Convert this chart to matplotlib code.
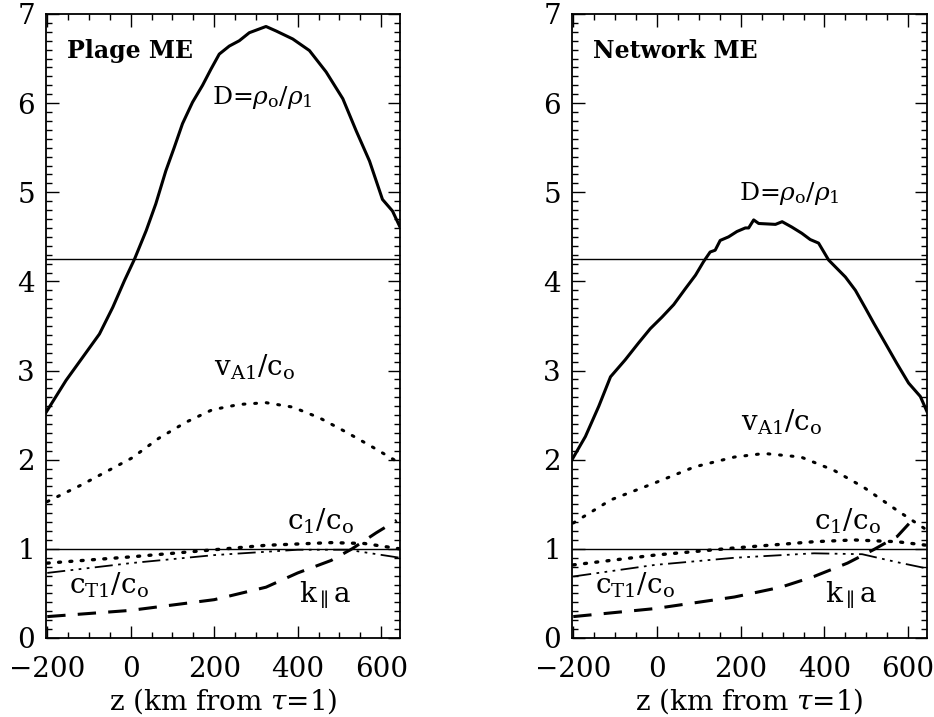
import numpy as np
import matplotlib
matplotlib.use("Agg")
import matplotlib.pyplot as plt
from matplotlib.ticker import MultipleLocator

plt.rcParams['font.family'] = ['DejaVu Serif']
plt.rcParams['mathtext.fontset'] = 'dejavuserif'

# ---- Plage ME ----
plage_d_z = [-203, -155, -115, -75, -43, -15, 9, 37, 60, 84, 104, 124, 148, 172, 192, 212, 236,
             260, 284, 324, 348, 388, 428, 468, 508, 540, 572, 603, 627, 645]
plage_d = [2.53, 2.89, 3.15, 3.41, 3.71, 4.01, 4.25, 4.57, 4.87, 5.24, 5.50, 5.77, 6.01, 6.20, 6.38,
           6.55, 6.64, 6.70, 6.79, 6.86, 6.81, 6.72, 6.59, 6.35, 6.05, 5.69, 5.35, 4.92, 4.79, 4.61]

plage_va_z = [-200, -117, -53, 3, 67, 132, 195, 260, 324, 388, 452, 516, 580, 645]
plage_va = [1.53, 1.72, 1.88, 2.02, 2.24, 2.42, 2.56, 2.62, 2.64, 2.59, 2.47, 2.31, 2.14, 1.96]

plage_c1_z = [-200, 0, 200, 324, 480, 560, 645]
plage_c1 = [0.84, 0.91, 0.99, 1.04, 1.07, 1.06, 1.0]

plage_ct_z = [-200, 0, 200, 400, 520, 645]
plage_ct = [0.73, 0.84, 0.93, 0.99, 0.99, 0.90]

plage_k_z = [-200, 0, 200, 324, 400, 480, 530, 588, 637]
plage_k = [0.24, 0.31, 0.43, 0.57, 0.73, 0.87, 1.0, 1.18, 1.32]

# ---- Network ME ----
net_d_z = [-203, -171, -139, -111, -76, -44, -16, 12, 40, 68, 92, 111, 127, 139, 151, 171, 191, 211,
           219, 231, 243, 283, 299, 322, 346, 366, 386, 410, 450, 474, 498, 518, 545, 573, 601, 629, 645]
net_d = [2.00, 2.26, 2.60, 2.93, 3.12, 3.31, 3.47, 3.60, 3.74, 3.92, 4.07, 4.22, 4.33, 4.35, 4.46,
         4.50, 4.56, 4.60, 4.60, 4.69, 4.65, 4.64, 4.67, 4.61, 4.54, 4.47, 4.43, 4.24, 4.05, 3.90,
         3.70, 3.53, 3.31, 3.08, 2.86, 2.71, 2.54]

net_va_z = [-200, -110, -5, 90, 185, 256, 344, 423, 494, 574, 645]
net_va = [1.29, 1.55, 1.74, 1.92, 2.03, 2.07, 2.03, 1.88, 1.69, 1.43, 1.21]

net_c1_z = [-200, -5, 185, 375, 470, 574, 645]
net_c1 = [0.82, 0.93, 1.01, 1.08, 1.10, 1.08, 1.04]

net_ct_z = [-200, -5, 185, 375, 490, 574, 645]
net_ct = [0.69, 0.82, 0.90, 0.95, 0.94, 0.85, 0.78]

net_k_z = [-200, -5, 185, 296, 375, 455, 517, 574, 621]
net_k = [0.24, 0.33, 0.46, 0.57, 0.69, 0.84, 0.99, 1.14, 1.38]

panels = [
    dict(title='Plage ME', d=(plage_d_z, plage_d), va=(plage_va_z, plage_va),
         c1=(plage_c1_z, plage_c1), ct=(plage_ct_z, plage_ct), k=(plage_k_z, plage_k),
         dpos=(194, 5.99), vapos=(200, 2.95)),
    dict(title='Network ME', d=(net_d_z, net_d), va=(net_va_z, net_va),
         c1=(net_c1_z, net_c1), ct=(net_ct_z, net_ct), k=(net_k_z, net_k),
         dpos=(196, 4.91), vapos=(200, 2.33)),
]

W, H = 934, 717
fig = plt.figure(figsize=(W / 100, H / 100), dpi=100)
rects = [[46 / W, 79 / H, 354 / W, 624 / H], [572 / W, 79 / H, 355 / W, 624 / H]]

for rect, p in zip(rects, panels):
    ax = fig.add_axes(rect)
    ax.plot(*p['d'], color='black', lw=2.2)
    ax.plot(*p['va'], color='black', lw=2.2, linestyle=(0, (0.6, 3.2)), dash_capstyle='round')
    ax.plot(*p['c1'], color='black', lw=2.4, linestyle=(0, (0.6, 2.8)), dash_capstyle='round')
    ax.plot(*p['ct'], color='black', lw=1.3, linestyle=(0, (10, 3, 1.5, 3, 1.5, 3, 1.5, 3)))
    ax.plot(*p['k'], color='black', lw=2.2, linestyle=(0, (6, 4)))
    ax.axhline(1.0, color='black', lw=1.0)
    ax.axhline(4.25, color='black', lw=1.0)

    ax.set_xlim(-203, 645)
    ax.set_ylim(0, 7)
    ax.xaxis.set_major_locator(MultipleLocator(200))
    ax.xaxis.set_minor_locator(MultipleLocator(50))
    ax.yaxis.set_major_locator(MultipleLocator(1))
    ax.yaxis.set_minor_locator(MultipleLocator(0.1))
    ax.tick_params(which='both', direction='in', top=True, right=True, width=1.0)
    ax.tick_params(which='major', length=9, labelsize=20)
    ax.tick_params(axis='x', which='major', pad=13)
    ax.tick_params(axis='y', which='major', pad=8)
    ax.tick_params(which='minor', length=4)
    for s in ax.spines.values():
        s.set_linewidth(1.3)
    ax.set_xlabel(r'z (km from $\tau$=1)', fontsize=20, labelpad=2)

    ax.text(0.06, 0.93, p['title'], transform=ax.transAxes, fontsize=17,
            fontweight='bold', va='baseline')
    ax.text(*p['dpos'], r'D=$\rho_{\rm o}/\rho_{\rm 1}$', fontsize=18, va='baseline')
    ax.text(*p['vapos'], r'$\mathrm{v_{A1}/c_o}$', fontsize=20, va='baseline')
    ax.text(375, 1.22, r'$\mathrm{c_1/c_o}$', fontsize=20, va='baseline')
    ax.text(-147, 0.5, r'$\mathrm{c_{T1}/c_o}$', fontsize=20, va='baseline')
    ax.text(402, 0.40, r'$\mathrm{k_{\parallel}a}$', fontsize=20, va='baseline')

fig.savefig('out.png', dpi=100)
